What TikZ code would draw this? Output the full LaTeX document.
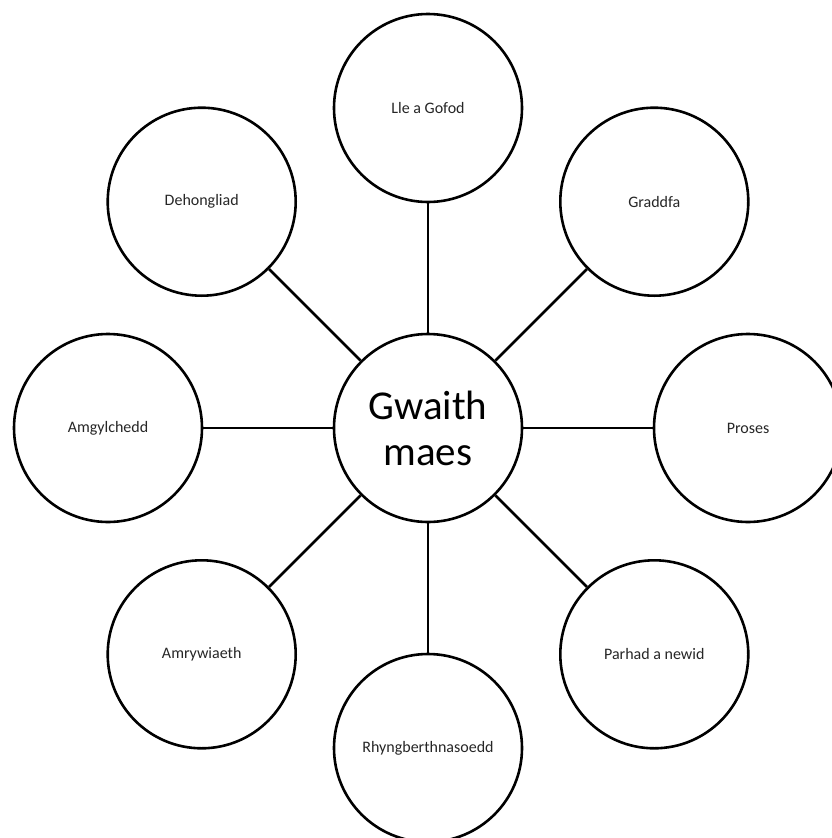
\documentclass[tikz,border=0pt]{standalone}
\usepackage{fontspec}
\setmainfont{Carlito}
\begin{document}
\begin{tikzpicture}[x=1pt,y=-1pt,
  bubble/.style={circle,draw=black,line width=2.6pt,fill=white,minimum size=188pt,inner sep=0pt,font=\fontsize{16}{19}\selectfont,text=black!85},
  hub/.style={bubble,font=\fontsize{41}{46}\selectfont,align=center,text=black},
  link/.style={draw=black,line width=2.6pt}]
\useasboundingbox (0,0) rectangle (832,838);
\node[hub] (c) at (428,428) {Gwaith\\maes};
\node[bubble] (n) at (428,108) {Lle a Gofod};
\node[bubble] (ne) at (654.3,201.7) {Graddfa};
\node[bubble] (e) at (748,428) {Proses};
\node[bubble] (se) at (654.3,654.3) {Parhad a newid};
\node[bubble] (s) at (428,748) {Rhyngberthnasoedd};
\node[bubble] (sw) at (201.7,654.3) {Amrywiaeth};
\node[bubble] (w) at (108,428) {Amgylchedd};
\node[bubble] (nw) at (201.7,201.7) {Dehongliad};
\foreach \t in {n,ne,e,se,s,sw,w,nw}{\path[link] (c) -- (\t);}
\end{tikzpicture}
\end{document}
